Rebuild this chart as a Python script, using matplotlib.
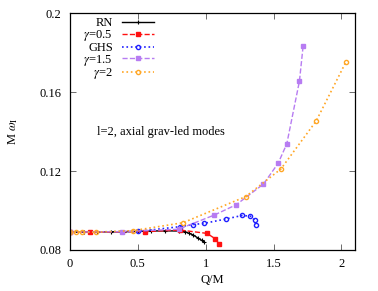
import matplotlib
matplotlib.use("Agg")
import matplotlib.pyplot as plt

plt.rcParams['font.family'] = ['Liberation Serif', 'DejaVu Serif']
plt.rcParams['mathtext.fontset'] = 'stix'

# RN
rn_q = [0.0, 0.1, 0.2, 0.3, 0.4, 0.5, 0.6, 0.7, 0.8, 0.85, 0.88, 0.91, 0.94, 0.97, 0.99]
rn_w = [0.0890, 0.0890, 0.0891, 0.0892, 0.0893, 0.0894, 0.0896, 0.0897, 0.0896, 0.0892, 0.0884, 0.0875, 0.0862, 0.0849, 0.0839]

# gamma = 0.5
g05_q = [0.0, 0.15, 0.55, 0.81, 1.01, 1.07, 1.10]
g05_w = [0.0890, 0.0890, 0.0893, 0.0901, 0.0884, 0.0857, 0.0829]

# GHS
ghs_q = [0.0, 0.5, 0.81, 0.91, 0.99, 1.15, 1.27, 1.33, 1.36, 1.37]
ghs_w = [0.0890, 0.0894, 0.0918, 0.0929, 0.0935, 0.0957, 0.0975, 0.0971, 0.0952, 0.0928]

# gamma = 1.5
g15_q = [0.0, 0.38, 0.80, 1.064, 1.225, 1.426, 1.534, 1.598, 1.691, 1.718]
g15_w = [0.0890, 0.0893, 0.0905, 0.0977, 0.1029, 0.1134, 0.1239, 0.1338, 0.1655, 0.1832]

# gamma = 2
g2_q = [0.0, 0.042, 0.09, 0.19, 0.466, 0.833, 1.294, 1.554, 1.814, 2.034]
g2_w = [0.0890, 0.0890, 0.0890, 0.0890, 0.0898, 0.0938, 0.1070, 0.1210, 0.1453, 0.1753]

fig = plt.figure(figsize=(3.78, 2.91), dpi=100)
ax = fig.add_axes([0.185, 0.141, 0.754, 0.814])

ax.plot(rn_q, rn_w, '-', color='black', lw=1, marker='+', ms=3, mew=0.8, label='RN')
ax.plot(g05_q, g05_w, '--', color='#ff1010', lw=1, marker='s', ms=2.5, label=r'$\gamma$=0.5')
ax.plot(ghs_q, ghs_w, ':', color='#2020ff', lw=1.2, marker='o', ms=3, mfc='none', mew=1.0, label='GHS')
ax.plot(g15_q, g15_w, '--', color='#b77cf2', lw=1, marker='s', ms=2.5, label=r'$\gamma$=1.5')
ax.plot(g2_q, g2_w, ':', color='#ffa726', lw=1.2, marker='o', ms=3, mfc='none', mew=1.0, label=r'$\gamma$=2')

ax.set_xlim(0, 2.1)
ax.set_ylim(0.08, 0.2)
ax.set_xticks([0, 0.5, 1, 1.5, 2])
ax.set_xticklabels(['0', '0.5', '1', '1.5', '2'])
ax.set_yticks([0.08, 0.12, 0.16, 0.2])
ax.set_yticklabels(['0.08', '0.12', '0.16', '0.2'])
ax.tick_params(direction='in', top=True, right=True, labelsize=9, length=4, width=0.6, colors='#555555', labelcolor='black', pad=6)
for s in ax.spines.values():
    s.set_linewidth(0.9)

ax.set_xlabel('Q/M', fontsize=9, labelpad=3)
ax.set_ylabel(r'M $\omega_{\rm I}$', fontsize=9, labelpad=14)

ax.text(0.2, 0.1397, 'l=2, axial grav-led modes', fontsize=9, ha='left', va='center')

ax.legend(loc='upper left', bbox_to_anchor=(0.03, 1.003), frameon=False, markerfirst=False,
          fontsize=9, handlelength=2.6, labelspacing=-0.1, handletextpad=0.7, borderaxespad=0.0)

fig.savefig('out.png', dpi=100)
